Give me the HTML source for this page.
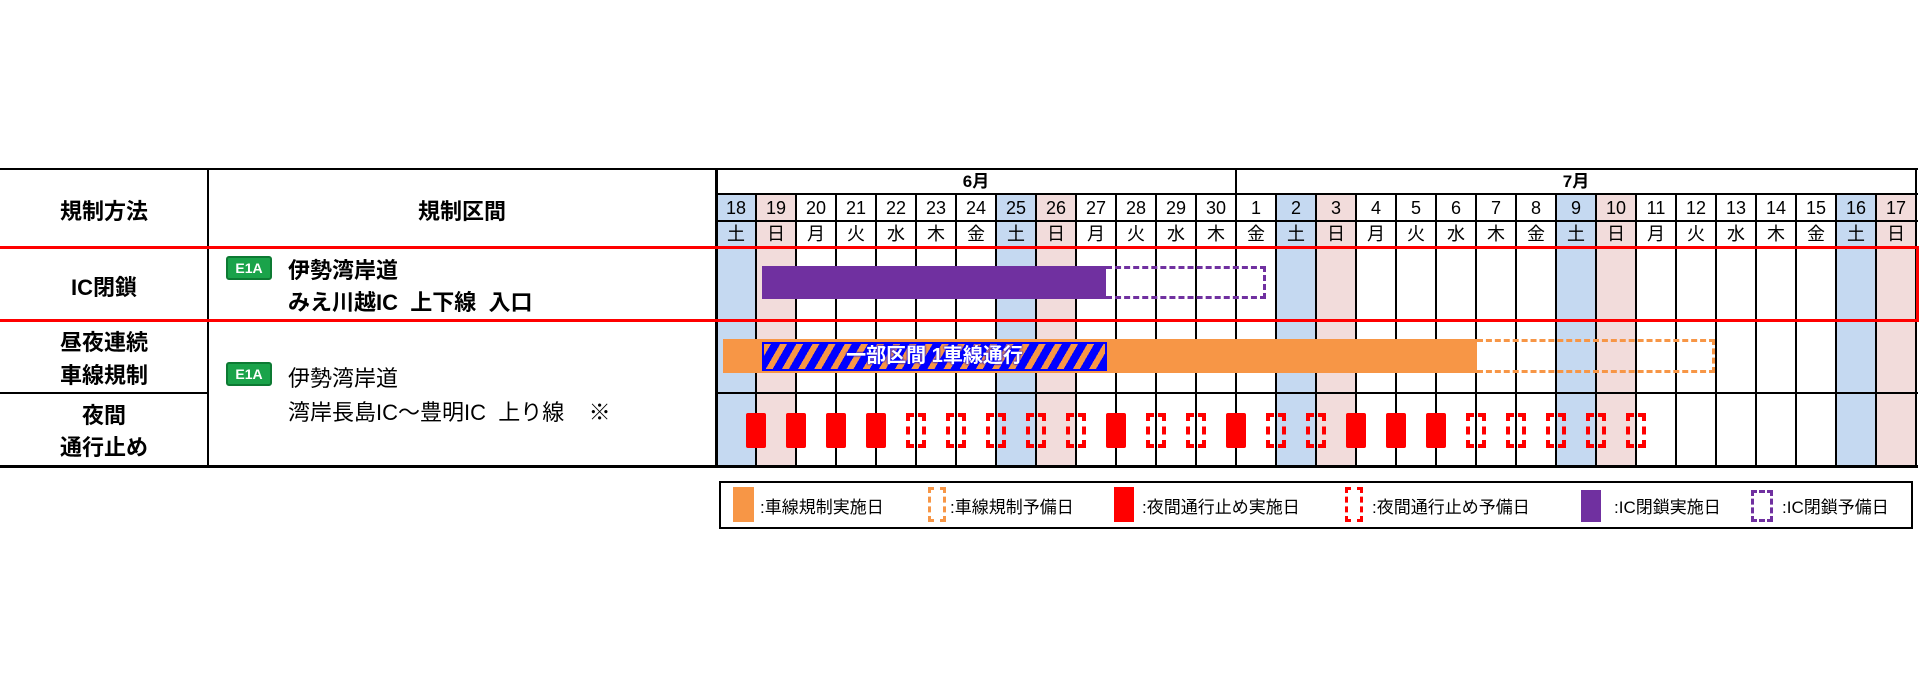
<!DOCTYPE html>
<html><head><meta charset="utf-8"><style>
*{margin:0;padding:0;box-sizing:border-box}
body{width:1920px;height:678px;background:#fff;position:relative;overflow:hidden;font-family:"Liberation Sans","Noto Sans CJK JP",sans-serif;color:#000}
.a{position:absolute}
.t{position:absolute;white-space:nowrap;text-align:center}
.vl{position:absolute;width:2px;background:#000}
.hl{position:absolute;height:2px;background:#000}
.badge{position:absolute;width:46px;height:24px;background:#1aa34a;border:2px solid #0d7a33;border-radius:3px;color:#fff;font-size:14px;font-weight:bold;text-align:center;line-height:20px}
.ds{position:absolute;border:4px dashed #f00;width:20px;height:35px}
.ss{position:absolute;background:#f00;width:20px;height:35px;border-radius:2px}
.lg{position:absolute;font-size:17px;top:493px}
</style></head><body>
<div id="c"></div>
<script>
var h='';
var X0=716,W=40;
var dates=[18,19,20,21,22,23,24,25,26,27,28,29,30,1,2,3,4,5,6,7,8,9,10,11,12,13,14,15,16,17];
var wd=['土','日','月','火','水','木','金'];
for(var i=0;i<30;i++){
 var x=X0+i*W, col=i%7==0?'#c5d9f1':(i%7==1?'#f2dcdb':'#fff');
 h+='<div class="a" style="left:'+x+'px;top:195px;width:'+W+'px;height:271px;background:'+col+'"></div>';
 h+='<div class="t" style="left:'+x+'px;top:196px;width:'+W+'px;font-size:18px;line-height:24px">'+dates[i]+'</div>';
 h+='<div class="t" style="left:'+x+'px;top:222px;width:'+W+'px;font-size:18px;line-height:24px">'+wd[i%7]+'</div>';
}
for(var i=0;i<=30;i++){h+='<div class="vl" style="left:'+(X0+i*W-1)+'px;top:194px;height:272px"></div>';}
h+='<div class="vl" style="left:715px;top:169px;height:297px;width:3px"></div>';
h+='<div class="vl" style="left:1235px;top:169px;height:26px"></div>';
h+='<div class="vl" style="left:1915px;top:169px;height:297px"></div>';
h+='<div class="vl" style="left:207px;top:169px;height:297px"></div>';
h+='<div class="hl" style="left:0;top:168px;width:1918px"></div>';
h+='<div class="hl" style="left:716px;top:193px;width:1202px"></div>';
h+='<div class="hl" style="left:716px;top:220px;width:1202px"></div>';
h+='<div class="hl" style="left:0;top:392px;width:208px"></div>';
h+='<div class="hl" style="left:716px;top:392px;width:1202px"></div>';
h+='<div class="hl" style="left:0;top:465px;width:1918px;height:3px"></div>';
h+='<div class="a" style="left:0;top:246px;width:1919px;height:3px;background:#f00"></div>';
h+='<div class="a" style="left:0;top:319px;width:1919px;height:3px;background:#f00"></div>';
h+='<div class="a" style="left:1916px;top:246px;width:3px;height:76px;background:#f00"></div>';
h+='<div class="t" style="left:716px;top:171px;width:520px;font-size:17px;font-weight:bold;line-height:22px">6月</div>';
h+='<div class="t" style="left:1236px;top:171px;width:680px;font-size:17px;font-weight:bold;line-height:22px">7月</div>';
var pat='SSSSDDDDDSDDSDDSSSDDDDD';
for(var k=0;k<23;k++){var cx=756+k*40;h+='<div class="'+(pat[k]=='S'?'ss':'ds')+'" style="left:'+(cx-10)+'px;top:413px"></div>';}
document.getElementById('c').innerHTML=h;
</script>
<div class="t" style="left:0;top:194px;width:208px;font-size:22px;font-weight:bold">規制方法</div>
<div class="t" style="left:208px;top:194px;width:508px;font-size:22px;font-weight:bold">規制区間</div>
<div class="t" style="left:0;top:270px;width:208px;font-size:22px;font-weight:bold">IC閉鎖</div>
<div class="t" style="left:0;top:326px;width:208px;font-size:22px;line-height:33px;font-weight:bold">昼夜連続<br>車線規制</div>
<div class="t" style="left:0;top:400px;width:208px;font-size:22px;line-height:32px;font-weight:bold">夜間<br>通行止め</div>
<div class="badge" style="left:226px;top:256px">E1A</div>
<div class="a" style="left:288px;top:255px;font-size:22px;font-weight:bold;line-height:32px;white-space:nowrap">伊勢湾岸道<br>みえ川越IC&nbsp;&nbsp;上下線&nbsp;&nbsp;入口</div>
<div class="badge" style="left:226px;top:362px">E1A</div>
<div class="a" style="left:288px;top:362px;font-size:22px;line-height:34px;white-space:nowrap">伊勢湾岸道<br>湾岸長島IC～豊明IC&nbsp;&nbsp;上り線&nbsp;&nbsp;&nbsp;&nbsp;※</div>
<div class="a" style="left:762px;top:266px;width:344px;height:33px;background:#7030a0"></div>
<div class="a" style="left:1106px;top:266px;width:160px;height:33px;border:3px dashed #7030a0;border-left:none"></div>
<div class="a" style="left:723px;top:339px;width:754px;height:34px;background:#f79646"></div>
<div class="a" style="left:1477px;top:339px;width:238px;height:34px;border:3px dashed #f79646;border-left:none"></div>
<div class="a" style="left:762px;top:342px;width:345px;height:29px;border:2px solid #00f;background:repeating-linear-gradient(120deg,#f79646 0 6px,#0000ff 6px 14px);color:#fff;font-size:20px;font-weight:bold;text-align:center;line-height:25px;white-space:nowrap;text-shadow:0 0 2px #0000ff,0 0 2px #0000ff">一部区間 1車線通行</div>
<div class="a" style="left:719px;top:481px;width:1194px;height:48px;border:2px solid #000"></div>
<div class="a" style="left:733px;top:487px;width:21px;height:35px;background:#f79646"></div>
<div class="lg" style="left:760px">:車線規制実施日</div>
<div class="a" style="left:928px;top:487px;width:18px;height:35px;border:3px dashed #f79646"></div>
<div class="lg" style="left:950px">:車線規制予備日</div>
<div class="a" style="left:1114px;top:487px;width:20px;height:35px;background:#f00"></div>
<div class="lg" style="left:1142px">:夜間通行止め実施日</div>
<div class="a" style="left:1345px;top:487px;width:18px;height:35px;border:3px dashed #f00"></div>
<div class="lg" style="left:1372px">:夜間通行止め予備日</div>
<div class="a" style="left:1581px;top:490px;width:20px;height:32px;background:#7030a0"></div>
<div class="lg" style="left:1614px">:IC閉鎖実施日</div>
<div class="a" style="left:1751px;top:490px;width:22px;height:32px;border:3px dashed #7030a0"></div>
<div class="lg" style="left:1782px">:IC閉鎖予備日</div>
</body></html>
